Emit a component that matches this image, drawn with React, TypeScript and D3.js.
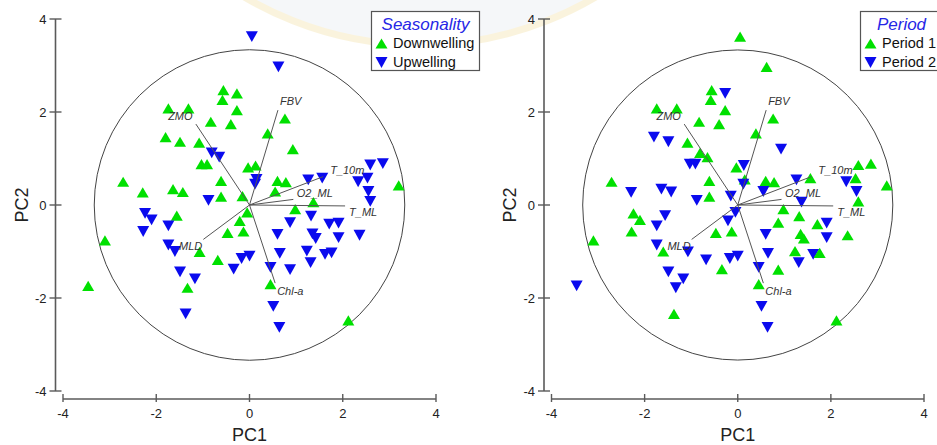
import React from "react";
import * as d3 from "d3";

// PCA sample scores (PC1, PC2)
const pc1 = [
  0.05, 0.62, -0.56, -0.27, -0.58, -0.27, -1.74, -1.31, -0.83, -0.40,
  0.76, 0.39, -1.80, -1.49, -1.08, 0.93, -0.81, -0.65, -1.03, -0.91,
  -0.03, 0.13, 0.15, 0.12, -0.61, 0.60, 0.78, 0.55, 1.26, 1.56,
  2.59, 2.86, 2.33, 2.53, 2.55, 2.59, 3.20, -2.71, -2.29, -1.64,
  -1.43, -0.61, -0.15, -0.88, 1.37, 0.98, -0.05, -0.21, 0.87, 1.32,
  -0.47, -0.13, 0.60, 1.35, 1.42, 1.71, 1.91, 1.91, 2.36, -2.24,
  -2.10, -1.56, -1.74, -2.28, -3.10, -1.74, -1.60, -1.07, -0.68, -0.34,
  -0.17, 0.00, 0.65, 1.23, 1.31, 1.62, 1.76, 0.45, 0.87, -1.49,
  -1.17, -1.33, -3.46, 0.45, 0.51, 0.64, 2.12, -1.37,
];
const pc2 = [
  3.62, 2.97, 2.47, 2.40, 2.26, 2.04, 2.08, 2.08, 1.79, 1.74,
  1.86, 1.54, 1.46, 1.36, 1.34, 1.20, 1.12, 1.03, 0.88, 0.88,
  0.81, 0.85, 0.55, 0.45, 0.52, 0.52, 0.49, 0.29, 0.54, 0.58,
  0.86, 0.89, 0.50, 0.58, 0.29, 0.08, 0.42, 0.50, 0.27, 0.34,
  0.28, 0.18, 0.19, 0.10, 0.06, -0.09, -0.16, -0.34, -0.38, -0.24,
  -0.60, -0.57, -0.63, -0.62, -0.72, -0.41, -0.39, -0.70, -0.65, -0.18,
  -0.32, -0.23, -0.45, -0.57, -0.76, -0.86, -1.00, -1.01, -1.18, -1.38,
  -1.15, -1.10, -1.04, -0.99, -1.24, -1.06, -1.03, -1.34, -1.39, -1.44,
  -1.59, -1.78, -1.74, -1.70, -2.18, -2.63, -2.48, -2.34,
];

// Group membership of each sample: 0 = Downwelling / Period 1, 1 = Upwelling / Period 2
const seasonality = [
  1, 1, 0, 0, 0, 0, 0, 0, 0, 0,
  0, 0, 0, 0, 0, 0, 1, 1, 0, 0,
  0, 0, 1, 1, 0, 0, 0, 0, 1, 1,
  1, 1, 1, 1, 1, 1, 0, 0, 0, 0,
  0, 0, 0, 1, 0, 0, 0, 0, 1, 1,
  0, 0, 1, 1, 1, 1, 1, 1, 1, 1,
  1, 0, 1, 1, 0, 1, 1, 0, 0, 1,
  1, 1, 1, 1, 1, 1, 1, 1, 1, 1,
  1, 0, 0, 0, 1, 1, 0, 1,
];
const period = [
  0, 0, 0, 1, 0, 0, 0, 0, 0, 0,
  0, 0, 1, 1, 0, 1, 0, 0, 1, 1,
  0, 1, 0, 1, 0, 0, 0, 1, 1, 0,
  0, 0, 1, 0, 1, 0, 0, 0, 1, 1,
  1, 0, 1, 1, 1, 0, 1, 1, 0, 0,
  0, 0, 1, 0, 0, 0, 1, 1, 0, 0,
  0, 1, 1, 0, 0, 1, 0, 1, 1, 0,
  1, 1, 1, 0, 1, 1, 0, 1, 0, 1,
  1, 1, 1, 0, 1, 1, 0, 0,
];

const seasonLabels = ["Downwelling", "Upwelling"];
const periodLabels = ["Period 1", "Period 2"];

// Variable loadings (scaled to score space)
const variables = ["ZMO", "FBV", "T_10m", "O2_ML", "T_ML", "Chl-a", "MLD"];
const loadX = [-1.15, 0.61, 1.58, 0.94, 2.05, 0.55, -0.99];
const loadY = [1.74, 2.04, 0.61, 0.12, -0.02, -1.68, -0.74];

const axisTicks = [-4, -2, 0, 2, 4];
const circleRadius = 3.33;

// ---- layout / styling ----
const W = 937;
const H = 445;
const FONT = "'Liberation Sans', Arial, Helvetica, sans-serif";
const GREEN = "#00e000";
const BLUE = "#0a0aee";
const AXIS = "#5a5a5a";

const labelOffsets: Record<string, { dx: number; dy: number; anchor: string }> = {
  ZMO: { dx: -15.5, dy: -4.5, anchor: "middle" },
  FBV: { dx: 2, dy: -5, anchor: "start" },
  T_10m: { dx: 7, dy: -3, anchor: "start" },
  O2_ML: { dx: 3.5, dy: -2.5, anchor: "start" },
  T_ML: { dx: 4, dy: 10.5, anchor: "start" },
  "Chl-a": { dx: 2, dy: 11.5, anchor: "start" },
  MLD: { dx: -1, dy: 10.5, anchor: "end" },
};

const upTri: d3.SymbolType = {
  draw(ctx, size) {
    const w = Math.sqrt(size) * 0.6;
    const h = w * 0.85;
    ctx.moveTo(0, -h);
    ctx.lineTo(w, h);
    ctx.lineTo(-w, h);
    ctx.closePath();
  },
};
const downTri: d3.SymbolType = {
  draw(ctx, size) {
    const w = Math.sqrt(size) * 0.6;
    const h = w * 0.9;
    ctx.moveTo(-w, -h);
    ctx.lineTo(w, -h);
    ctx.lineTo(0, h);
    ctx.closePath();
  },
};
const SYM_SIZE = 100;
const upPath = d3.symbol(upTri, SYM_SIZE)() as string;
const downPath = d3.symbol(downTri, SYM_SIZE)() as string;

const yScale = d3.scaleLinear().domain([-4, 4]).range([391, 19]);

type PanelProps = {
  x0: number;
  x1: number;
  groups: number[];
  title: string;
  labels: string[];
  legendX: number;
  legendW: number;
};

function Panel({ x0, x1, groups, title, labels, legendX, legendW }: PanelProps) {
  const x = d3.scaleLinear().domain([-4, 4]).range([x0, x1]);
  const y = yScale;
  const axisX = x0 - 7.5;
  const axisY = 399;
  const cx = x(0);
  const cy = y(0);
  const r = x(circleRadius) - x(0);
  const points = pc1.map((v, i) => ({ px: x(v), py: y(pc2[i]), g: groups[i] }));

  return (
    <g>
      {/* correlation circle */}
      <circle cx={cx} cy={cy} r={r} fill="none" stroke="#444" strokeWidth={1} />

      {/* y axis */}
      <line x1={axisX} x2={axisX} y1={y(4)} y2={y(-4)} stroke={AXIS} strokeWidth={1.6} />
      {axisTicks.map((t) => (
        <g key={"y" + t}>
          <line x1={axisX - 6} x2={axisX + 6} y1={y(t)} y2={y(t)} stroke={AXIS} strokeWidth={1.4} />
          <text
            x={axisX - 9}
            y={y(t) + 4.5}
            textAnchor="end"
            fontSize={13}
            fontFamily={FONT}
            fill="#222"
          >
            {t}
          </text>
        </g>
      ))}
      <text
        transform={`translate(${axisX - 28},${y(0)}) rotate(-90)`}
        textAnchor="middle"
        fontSize={18}
        fontFamily={FONT}
        fill="#222"
      >
        PC2
      </text>

      {/* x axis */}
      <line x1={x(-4)} x2={x(4)} y1={axisY} y2={axisY} stroke={AXIS} strokeWidth={1.6} />
      {axisTicks.map((t) => (
        <g key={"x" + t}>
          <line x1={x(t)} x2={x(t)} y1={axisY - 5} y2={axisY + 3} stroke={AXIS} strokeWidth={1.4} />
          <text
            x={x(t)}
            y={axisY + 19}
            textAnchor="middle"
            fontSize={13}
            fontFamily={FONT}
            fill="#222"
          >
            {t}
          </text>
        </g>
      ))}
      <text x={x(0)} y={axisY + 42} textAnchor="middle" fontSize={18} fontFamily={FONT} fill="#222">
        PC1
      </text>

      {/* sample scores */}
      {points.map((p, i) => (
        <path
          key={i}
          d={p.g === 0 ? upPath : downPath}
          transform={`translate(${p.px},${p.py})`}
          fill={p.g === 0 ? GREEN : BLUE}
        />
      ))}

      {/* loading vectors */}
      {variables.map((name, i) => {
        const ex = x(loadX[i]);
        const ey = y(loadY[i]);
        const o = labelOffsets[name];
        return (
          <g key={name}>
            <line x1={cx} y1={cy} x2={ex} y2={ey} stroke="#555" strokeWidth={1} />
            <text
              x={ex + o.dx}
              y={ey + o.dy}
              textAnchor={o.anchor as any}
              fontSize={11}
              fontStyle="italic"
              fontFamily={FONT}
              fill="#333"
            >
              {name}
            </text>
          </g>
        );
      })}

      {/* legend */}
      <g transform={`translate(${legendX},11.5)`}>
        <rect x={0} y={0} width={legendW} height={59} fill="#fff" stroke="#555" strokeWidth={1.2} />
        <text
          x={legendW / 2}
          y={18}
          textAnchor="middle"
          fontSize={17}
          fontStyle="italic"
          fontFamily={FONT}
          fill="#2626e6"
        >
          {title}
        </text>
        {labels.map((lab, k) => (
          <g key={lab} transform={`translate(0,${k * 19})`}>
            <path d={k === 0 ? upPath : downPath} transform="translate(10,32)" fill={k === 0 ? GREEN : BLUE} />
            <text x={21.5} y={36} fontSize={14.5} fontFamily={FONT} fill="#111">
              {lab}
            </text>
          </g>
        ))}
      </g>
    </g>
  );
}

export default function App() {
  return (
    <svg
      width={W}
      height={H}
      viewBox={`0 0 ${W} ${H}`}
      style={{ position: "absolute", left: 0, top: 0, background: "#fff" }}
    >
      <rect width={W} height={H} fill="#fff" />
      {/* faint background emblem */}
      <g opacity={0.55}>
        <circle cx={420} cy={-300} r={345} fill="#eef1f5" stroke="#f7ebc2" strokeWidth={7} />
      </g>
      <Panel
        x0={63}
        x1={436}
        groups={seasonality}
        title="Seasonality"
        labels={seasonLabels}
        legendX={371.5}
        legendW={108}
      />
      <Panel
        x0={551.5}
        x1={924}
        groups={period}
        title="Period"
        labels={periodLabels}
        legendX={860.5}
        legendW={82}
      />
    </svg>
  );
}
